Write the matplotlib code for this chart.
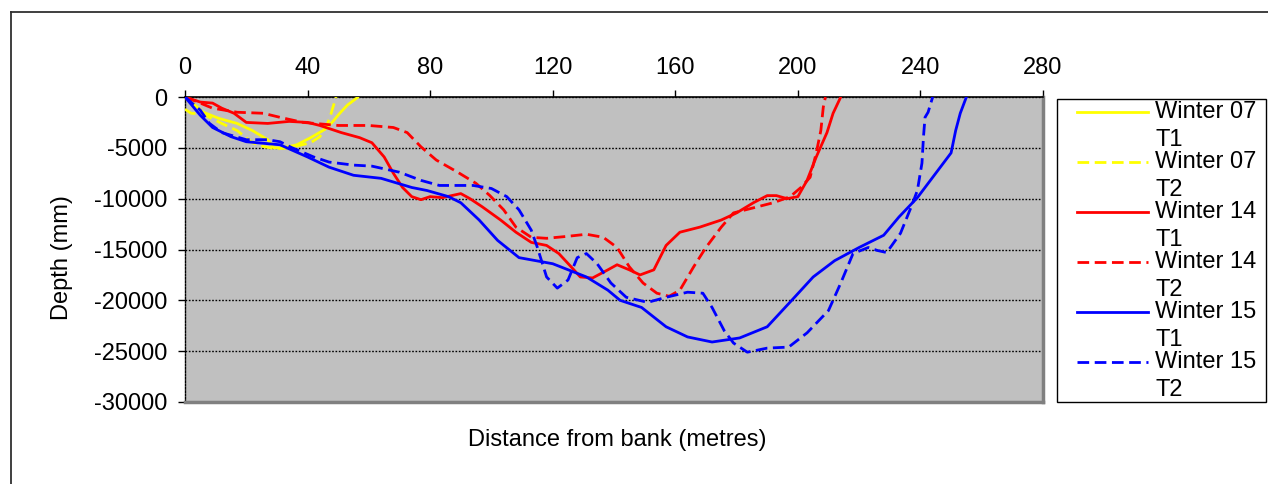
import matplotlib
matplotlib.use('Agg')
import matplotlib.pyplot as plt
from matplotlib.lines import Line2D
from matplotlib.patches import Rectangle

plt.rcParams['font.family'] = ['Liberation Sans', 'DejaVu Sans']
plt.rcParams['axes.unicode_minus'] = False

# ---------------- data ----------------
x_ticks = [0, 40, 80, 120, 160, 200, 240, 280]
y_ticks = [0, -5000, -10000, -15000, -20000, -25000, -30000]

w07_t1_x = [0, 6, 11, 17, 22, 27, 29, 32, 36.5, 41, 45, 48, 50.5, 53, 56.5]
w07_t1_y = [0, -1500, -2100, -2600, -3300, -4200, -5000, -5000, -4700, -4000, -3300, -2500, -1600, -800, 0]

w07_t2_x = [0, 2, 6, 12, 17, 22, 26, 30, 34, 41, 44, 46, 47.3, 48.3, 49.3]
w07_t2_y = [-1200, -1600, -1700, -2600, -3300, -4500, -4900, -5100, -5000, -4500, -3900, -3000, -2000, -1000, 0]

w14_t1_x = [0, 5, 9, 12, 16, 20, 27, 34, 40, 44, 51, 57, 61, 65, 68, 71, 74, 77, 80, 84, 87, 90, 93,
            97, 103, 108, 113, 118, 122, 126, 129, 133, 138, 141, 145, 148.5, 153, 157, 161.5, 168,
            175, 180, 185.5, 190, 193, 196.5, 200, 203, 206, 209.5, 211.5, 214]
w14_t1_y = [0, -500, -600, -1100, -1600, -2500, -2600, -2400, -2500, -2800, -3500, -4000, -4500, -5900,
            -7500, -8900, -9800, -10100, -9800, -9900, -9700, -9500, -10000, -10800, -12100, -13300,
            -14300, -14600, -15400, -16700, -17700, -17800, -17000, -16500, -17000, -17500, -17000,
            -14600, -13300, -12800, -12100, -11400, -10400, -9700, -9700, -10000, -9800, -8200, -5900,
            -3500, -1600, 0]

w14_t2_x = [0, 5, 9, 17, 25.5, 31, 38.5, 50, 60, 68, 72.5, 77, 82, 89, 95, 99.5, 104, 108, 113, 118,
            125, 131, 136.5, 141, 145, 149.5, 154, 158, 161.5, 166, 170, 175, 179, 185.5, 192, 197.5,
            201, 204, 206, 207.5, 208.3, 209]
w14_t2_y = [0, -600, -1100, -1500, -1600, -2000, -2500, -2800, -2800, -3000, -3500, -4900, -6200, -7400,
            -8500, -9700, -11100, -12800, -13800, -13900, -13700, -13500, -13800, -14800, -16700,
            -18300, -19300, -19600, -19000, -16700, -14800, -12800, -11400, -10900, -10400, -9800,
            -8900, -7900, -5500, -3300, -1000, 0]

w15_t1_x = [0, 5, 9, 15, 20, 31, 40, 47, 55, 64, 74, 79, 86, 90, 96, 102, 109, 120, 131, 138, 142,
            149, 157, 164, 172, 181, 190, 198, 205, 212, 220, 228, 233, 239, 244, 250, 251.5, 253, 255]
w15_t1_y = [0, -1800, -3000, -3900, -4400, -4700, -5900, -6900, -7700, -8000, -8900, -9200, -9800,
            -10400, -12100, -14100, -15800, -16400, -17700, -19000, -20000, -20700, -22600, -23600,
            -24100, -23700, -22600, -20000, -17700, -16100, -14800, -13600, -11800, -9900, -7900,
            -5500, -3300, -1600, 0]

w15_t2_x = [0, 5, 8, 12, 20, 27, 31, 35, 42, 47, 55, 61, 70, 77, 83, 94, 100, 105, 109, 113, 115,
            118, 121.5, 125, 128, 131, 134.5, 139, 144, 151, 157, 164, 169, 172, 176, 179, 183.5, 190,
            197, 203, 210, 214, 218, 223, 226, 229, 233.5, 237, 239, 240.5, 241, 241.5, 242.5, 244]
w15_t2_y = [0, -1300, -2600, -3500, -4200, -4200, -4400, -5000, -5900, -6400, -6700, -6800, -7400,
            -8200, -8700, -8700, -9000, -9800, -11100, -13100, -14800, -17700, -18800, -18000, -15800,
            -15400, -16400, -18300, -19700, -20200, -19700, -19200, -19300, -20700, -23000, -24200,
            -25100, -24700, -24600, -23200, -21000, -18300, -15400, -14800, -15100, -15300, -13400,
            -10800, -9200, -6500, -3900, -2000, -1500, 0]

series = [
    ("Winter 07", "T1", w07_t1_x, w07_t1_y, '#FFFF00', '-'),
    ("Winter 07", "T2", w07_t2_x, w07_t2_y, '#FFFF00', (0, (4.2, 2.0))),
    ("Winter 14", "T1", w14_t1_x, w14_t1_y, '#FF0000', '-'),
    ("Winter 14", "T2", w14_t2_x, w14_t2_y, '#FF0000', (0, (4.2, 2.0))),
    ("Winter 15", "T1", w15_t1_x, w15_t1_y, '#0000FF', '-'),
    ("Winter 15", "T2", w15_t2_x, w15_t2_y, '#0000FF', (0, (4.2, 2.0))),
]

# ---------------- figure ----------------
W, H = 1268, 484
fig = plt.figure(figsize=(W / 100, H / 100), dpi=100)
fig.patch.set_facecolor('white')

def fx(px):
    return px / W

def fy(py):
    return 1 - py / H

ax = fig.add_axes([fx(185), fy(402), (1043 - 185) / W, (402 - 97) / H])
ax.set_facecolor('#C0C0C0')

for name, tr, xs, ys, col, ls in series:
    ax.plot(xs, ys, color=col, ls=ls, lw=2.0, zorder=3,
            solid_joinstyle='round', solid_capstyle='round')

ax.set_xlim(0, 280)
ax.set_ylim(-30000, 0)
ax.xaxis.tick_top()
ax.set_xticks(x_ticks)
ax.set_yticks(y_ticks)
ax.set_yticklabels([str(v) for v in y_ticks])
ax.tick_params(axis='x', direction='out', length=5, width=1, pad=8, labelsize=17,
               top=True, bottom=False, labeltop=True, labelbottom=False)
ax.tick_params(axis='y', direction='out', length=5, width=1, pad=8, labelsize=17)

ax.yaxis.grid(True, color='black', ls=(0, (1.2, 1.2)), lw=1.0)
ax.set_axisbelow(True)

ax.spines['top'].set_color('black')
ax.spines['top'].set_linewidth(1.2)
ax.spines['left'].set_color('black')
ax.spines['left'].set_linestyle((0, (1.2, 1.2)))
ax.spines['left'].set_linewidth(1.0)
ax.spines['right'].set_color('#808080')
ax.spines['right'].set_linewidth(2.5)
ax.spines['bottom'].set_color('#808080')
ax.spines['bottom'].set_linewidth(2.5)

ax.set_ylabel('Depth (mm)', fontsize=17)
ax.yaxis.set_label_coords(-0.131, 0.475)
fig.text(fx(617), fy(440), 'Distance from bank (metres)', fontsize=17,
         ha='center', va='center')

# outer chart frame (left and top edges)
fig.add_artist(Line2D([fx(11), fx(11)], [0, fy(12)], color='#303030', lw=1.3,
                      transform=fig.transFigure))
fig.add_artist(Line2D([fx(11), 1], [fy(12), fy(12)], color='#303030', lw=1.3,
                      transform=fig.transFigure))

# legend
fig.add_artist(Rectangle((fx(1057), fy(402)), (1266 - 1057) / W, (402 - 99) / H,
                         transform=fig.transFigure, facecolor='white',
                         edgecolor='black', lw=1.0))
for i, (name, tr, xs, ys, col, ls) in enumerate(series):
    yc = 112 + 50 * i
    fig.add_artist(Line2D([fx(1077), fx(1148)], [fy(yc), fy(yc)], color=col, ls=ls,
                          lw=2.0, transform=fig.transFigure))
    fig.text(fx(1155), fy(yc), name, fontsize=17, ha='left', va='center')
    fig.text(fx(1155), fy(yc + 28), tr, fontsize=17, ha='left', va='center')

fig.savefig('out.png', dpi=100)
